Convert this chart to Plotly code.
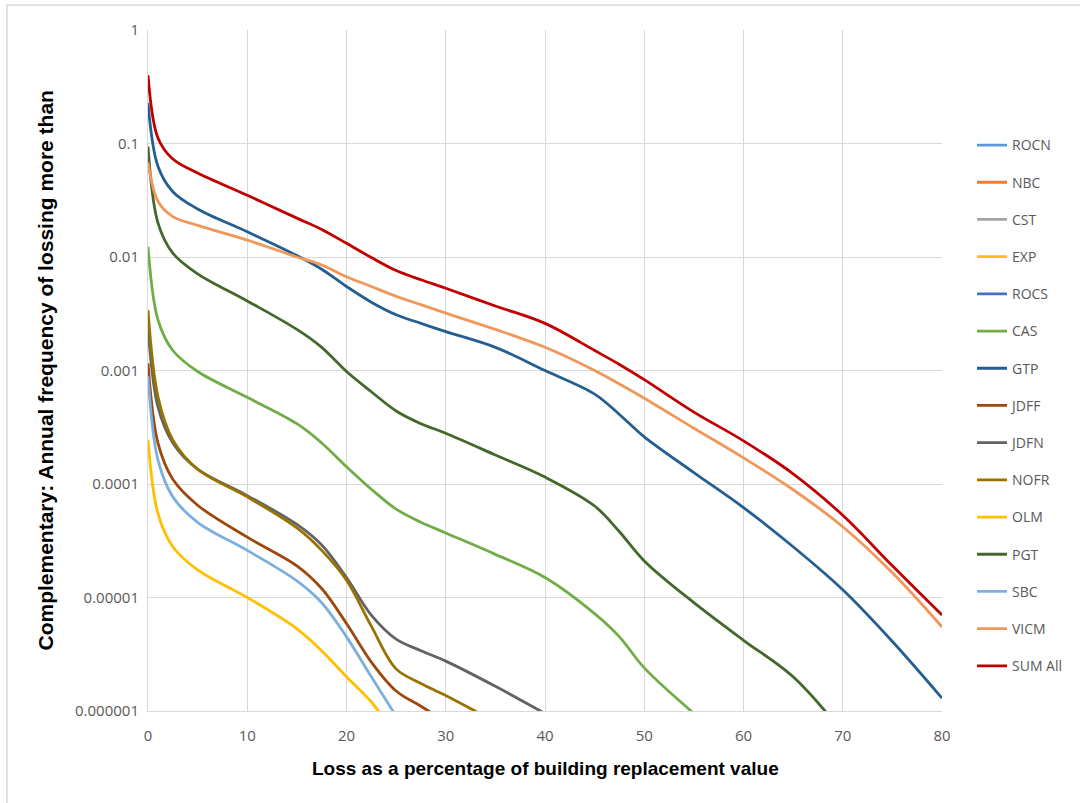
import plotly.graph_objects as go

# Loss as % of building replacement value
LOSS_PCT = [0, 1, 2.5, 5, 10, 15, 17.5, 20, 22.5, 25, 27.5, 30, 35, 40, 45, 47.5, 50, 55, 60, 65, 70, 75, 80]
N = None

ROCN = [N] * 23
NBC = [N] * 23
CST = [N] * 23
EXP = [N] * 23
ROCS = [N] * 23
CAS = [0.0123, 0.0028, 0.0015, 0.00098, 0.00058, 0.00034, 0.00023, 0.000142, 9e-5, 6e-5, 4.6e-5, 3.7e-5,
       2.4e-5, 1.5e-5, 7.2e-6, 4.5e-6, 2.4e-6, 9.5e-7, 4e-7, N, N, N, N]
GTP = [0.227, 0.063, 0.0376, 0.0265, 0.0167, 0.0103, 0.0078, 0.0055, 0.0040, 0.0031, 0.0026, 0.0022,
       0.0016, 0.001, 0.00062, 0.00041, 0.00026, 0.000126, 6.2e-5, 2.8e-5, 1.17e-5, 4.1e-6, 1.3e-6]
JDFF = [0.00116, 0.00023, 0.00011, 6.5e-5, 3.4e-5, 1.9e-5, 1.2e-5, 5.9e-6, 2.7e-6, 1.5e-6, 1.1e-6, 8e-7,
        N, N, N, N, N, N, N, N, N, N, N]
JDFN = [0.0024, 0.00048, 0.00023, 0.000135, 7.9e-5, 4.4e-5, 2.9e-5, 1.5e-5, 7e-6, 4.3e-6, 3.4e-6, 2.75e-6,
        1.65e-6, 9.5e-7, N, N, N, N, N, N, N, N, N]
NOFR = [0.0034, 0.00059, 0.000245, 0.000135, 7.7e-5, 4.1e-5, 2.6e-5, 1.42e-5, 5.6e-6, 2.35e-6, 1.75e-6, 1.37e-6,
        8e-7, N, N, N, N, N, N, N, N, N, N]
OLM = [0.000245, 5.5e-5, 2.8e-5, 1.75e-5, 1.0e-5, 5.3e-6, 3.4e-6, 2e-6, 1.2e-6, 6e-7,
       N, N, N, N, N, N, N, N, N, N, N, N, N]
PGT = [0.094, 0.02, 0.0108, 0.0071, 0.0041, 0.0023, 0.0016, 0.00098, 0.00065, 0.00044, 0.00034, 0.00028,
       0.00018, 0.000115, 6.4e-5, 3.8e-5, 2.1e-5, 9e-6, 4.2e-6, 2e-6, 6.5e-7, N, N]
SBC = [0.00089, 0.000163, 7.7e-5, 4.6e-5, 2.6e-5, 1.4e-5, 9e-6, 4.5e-6, 2e-6, 9e-7,
       N, N, N, N, N, N, N, N, N, N, N, N, N]
VICM = [0.068, 0.031, 0.0227, 0.019, 0.0141, 0.0100, 0.0085, 0.0067, 0.0055, 0.0045, 0.0038, 0.0032,
        0.0023, 0.0016, 0.001, 0.00076, 0.00057, 0.00031, 0.00017, 8.9e-5, 4.2e-5, 1.65e-5, 5.5e-6]
SUM_ALL = [0.40, 0.112, 0.073, 0.055, 0.035, 0.022, 0.0175, 0.0132, 0.0099, 0.0076, 0.0063, 0.0053,
           0.0037, 0.0026, 0.0015, 0.00113, 0.00083, 0.00043, 0.00024, 0.000123, 5.3e-5, 1.9e-5, 7e-6]

SERIES_NAMES = ["ROCN", "NBC", "CST", "EXP", "ROCS", "CAS", "GTP", "JDFF", "JDFN", "NOFR",
                "OLM", "PGT", "SBC", "VICM", "SUM All"]
SERIES_VALUES = [ROCN, NBC, CST, EXP, ROCS, CAS, GTP, JDFF, JDFN, NOFR, OLM, PGT, SBC, VICM, SUM_ALL]
COLORS = ["#5B9BD5", "#ED7D31", "#A5A5A5", "#FFC000", "#4472C4", "#70AD47", "#255E91", "#9E480E",
          "#636363", "#997300", "#FFC000", "#43682B", "#7CAFDD", "#F1975A", "#C00000"]

Y_TICKS = [1, 0.1, 0.01, 0.001, 0.0001, 0.00001, 0.000001]
Y_TICK_TEXT = ["1", "0.1", "0.01", "0.001", "0.0001", "0.00001", "0.000001"]
X_TICKS = [0, 10, 20, 30, 40, 50, 60, 70, 80]

fig = go.Figure()
for name, vals, col in zip(SERIES_NAMES, SERIES_VALUES, COLORS):
    fig.add_trace(go.Scatter(
        x=LOSS_PCT, y=vals, name=name, mode="lines",
        line=dict(color=col, width=2.8, shape="spline", smoothing=1.0),
        legendgroup=name,
    ))

grid = "#D9D9D9"
tick_font = dict(family="Open Sans, Calibri, sans-serif", size=15, color="#595959")
title_font_x = dict(family="Liberation Sans, Arial, sans-serif", size=19, color="#000000")
title_font_y = dict(family="Liberation Sans, Arial, sans-serif", size=21, color="#000000")

fig.update_layout(
    width=1080, height=803,
    margin=dict(l=148, r=138, t=30, b=92),
    paper_bgcolor="white", plot_bgcolor="white",
    showlegend=True,
    legend=dict(x=1.0378, y=0.854, xanchor="left", yanchor="top",
                font=dict(family="Open Sans, Calibri, sans-serif", size=14, color="#595959"),
                tracegroupgap=16, bgcolor="rgba(0,0,0,0)"),
    xaxis=dict(range=[0, 80], tickvals=X_TICKS, showgrid=True, gridcolor=grid, gridwidth=1,
               showline=True, linecolor=grid, linewidth=1, zeroline=False, ticks="",
               tickfont=tick_font, ticklabelstandoff=11),
    yaxis=dict(type="log", range=[-6, 0], tickvals=Y_TICKS, ticktext=Y_TICK_TEXT,
               showgrid=True, gridcolor=grid, gridwidth=1, showline=True, linecolor=grid,
               linewidth=1, zeroline=False, ticks="", tickfont=tick_font, ticklabelstandoff=5),
    annotations=[
        dict(text="<b>Loss as a percentage of building replacement value</b>", xref="paper", yref="paper",
             x=0.5, y=-0.085, xanchor="center", yanchor="middle", showarrow=False, font=title_font_x),
        dict(text="<b>Complementary: Annual frequency of lossing more than</b>", xref="paper", yref="paper",
             x=-0.1297, y=0.5, xanchor="center", yanchor="middle", showarrow=False, textangle=-90,
             font=title_font_y),
    ],
    shapes=[dict(type="rect", xref="paper", yref="paper",
                 x0=-0.1776, x1=1.3, y0=-0.3, y1=1.0367,
                 line=dict(color="#D9D9D9", width=1.5), fillcolor="rgba(0,0,0,0)", layer="below")],
)

fig.write_html("out.html", config={"displayModeBar": False},
               post_script="document.body.style.margin='0';")
